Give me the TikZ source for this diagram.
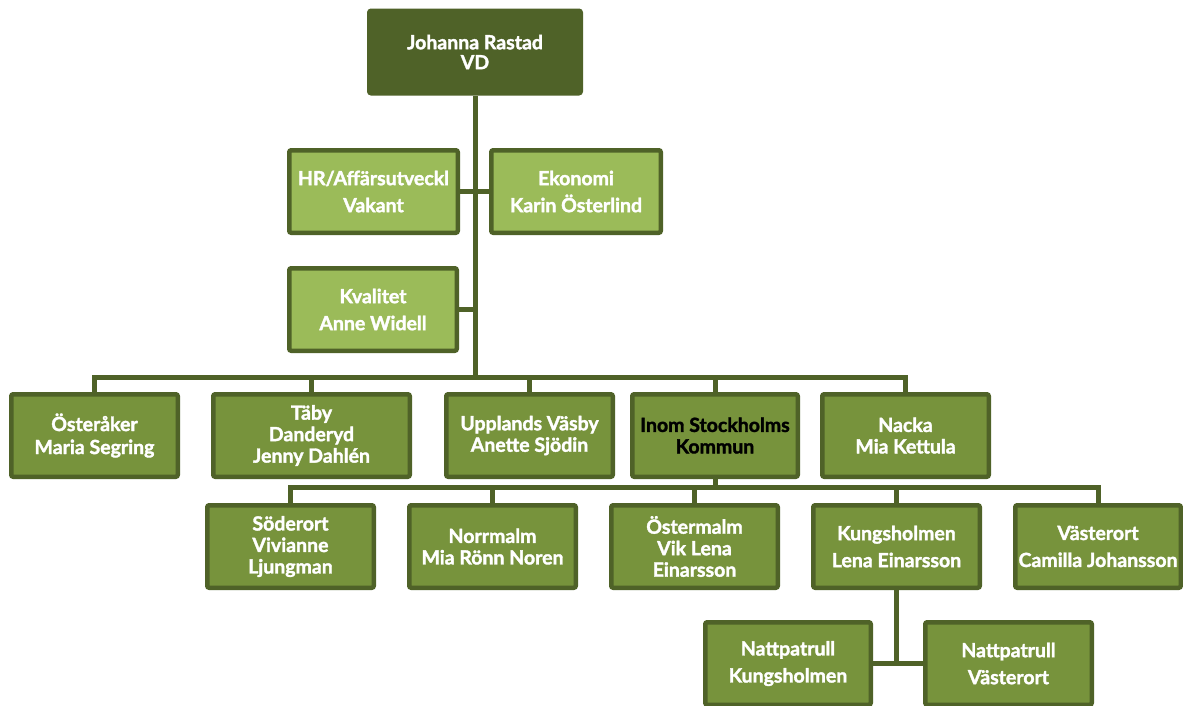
\documentclass[tikz,border=0pt]{standalone}
\usepackage{fontspec}
\setmainfont{Lato}[BoldFont={Lato Bold}, BoldFeatures={FakeBold=1.8}]
\definecolor{dk}{HTML}{4F6228}
\definecolor{lt}{HTML}{9BBB59}
\definecolor{md}{HTML}{77933C}
\tikzset{
  box/.style={draw=dk, line width=4.5pt, rounded corners=2pt, align=center,
    text=white, font=\fontsize{19.5}{21.5}\selectfont\bfseries,
    minimum height=82.5pt, inner sep=0pt},
  wide/.style={font=\fontsize{19.5}{27}\selectfont\bfseries},
  boxl/.style={box, fill=lt, wide},
  boxm/.style={box, fill=md},
  conn/.style={draw=dk, line width=5pt}
}
\begin{document}
\begin{tikzpicture}[x=1pt,y=-1pt]
\clip (0,0) rectangle (1183,705);
\fill[white] (0,0) rectangle (1183,705);
% top
\node[box, fill=dk, minimum width=211.5pt, font=\fontsize{19.5}{20}\selectfont\bfseries] (top) at (475,52) {Johanna Rastad\\VD};
\node[boxl, minimum width=168.5pt] (hr) at (373.5,191.5) {HR/Affärsutveckl\\Vakant};
\node[boxl, minimum width=169.5pt] (eko) at (576,191.5) {Ekonomi\\Karin Österlind};
\node[boxl, minimum width=167.5pt] (kval) at (373,309.5) {Kvalitet\\Anne Widell};
% level 2
\node[boxm, minimum width=166.5pt, font=\fontsize{19.5}{23}\selectfont\bfseries] (ost) at (94.5,435.5) {Österåker\\Maria Segring};
\node[boxm, minimum width=196.5pt] (taby) at (311.5,435.5) {Täby\\Danderyd\\Jenny Dahlén};
\node[boxm, minimum width=166.5pt] (upp) at (529.5,435.5) {Upplands Väsby\\Anette Sjödin};
\node[boxm, minimum width=165.5pt, text=black] (inom) at (715,435.5) {Inom Stockholms\\Kommun};
\node[boxm, minimum width=166.5pt] (nacka) at (905.5,435.5) {Nacka\\Mia Kettula};
% level 3
\node[boxm, minimum width=166.5pt] (sod) at (290.5,546.5) {Söderort\\Vivianne\\Ljungman};
\node[boxm, minimum width=166.5pt] (norr) at (492.5,546.5) {Norrmalm\\Mia Rönn Noren};
\node[boxm, minimum width=166.5pt] (oster) at (694.5,546.5) {Östermalm\\Vik Lena\\Einarsson};
\node[boxm, wide, minimum width=166.5pt] (kung) at (896.5,546.5) {Kungsholmen\\Lena Einarsson};
\node[boxm, wide, minimum width=165.5pt] (vast) at (1098,546.5) {Västerort\\Camilla Johansson};
% level 4
\node[boxm, wide, minimum width=165.5pt] (nk) at (788,663.5) {Nattpatrull\\Kungsholmen};
\node[boxm, wide, minimum width=166.5pt] (nv) at (1008.5,663.5) {Nattpatrull\\Västerort};
% coordinates
\coordinate (bus1) at (475,377);
\coordinate (bus2) at (715,487);
\coordinate (k4) at (896.5,663);
% connectors
\draw[conn] (top.south) -- (bus1);
\draw[conn] (hr.east) -- (eko.west);
\draw[conn] (kval.east) -- (kval.east -| top.south);
\foreach \n in {ost,taby,upp,inom,nacka} \draw[conn] (\n.north) |- (bus1);
\draw[conn] (inom.south) -- (bus2);
\foreach \n in {sod,norr,oster,kung,vast} \draw[conn] (\n.north) |- (bus2);
\draw[conn] (kung.south) -- (k4);
\draw[conn] (nk.east) -- (nv.west);
\end{tikzpicture}
\end{document}
